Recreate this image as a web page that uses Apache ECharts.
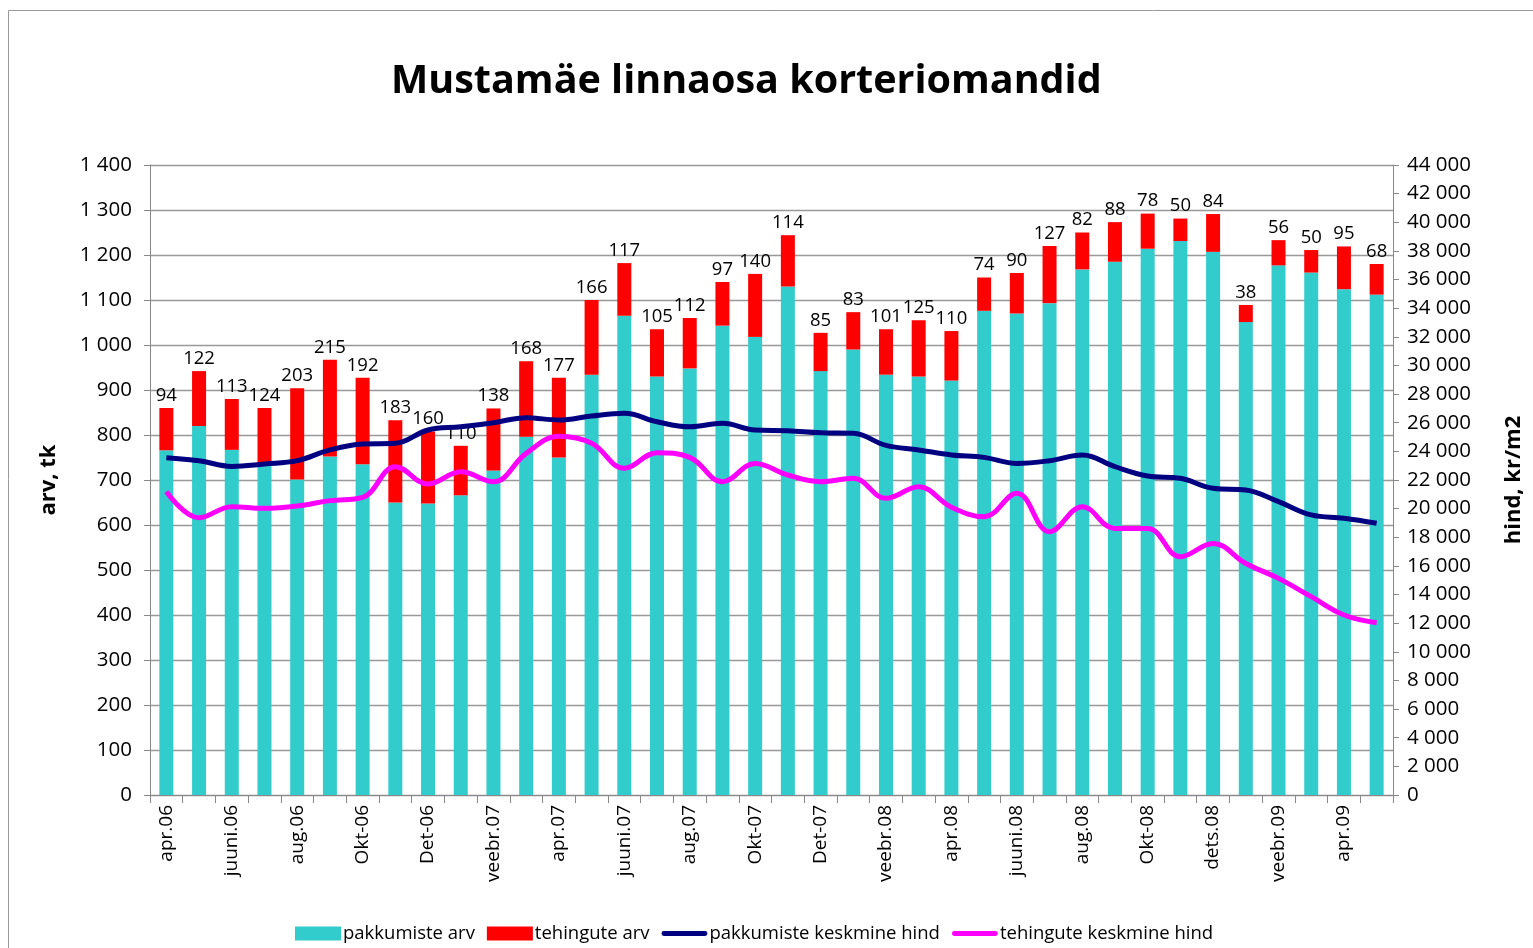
<!DOCTYPE html>
<html>
<head>
<meta charset="utf-8">
<title>Mustamäe linnaosa korteriomandid</title>
<script src="https://cdn.jsdelivr.net/npm/echarts@6/dist/echarts.min.js"></script>
<style>
  html, body { margin: 0; padding: 0; background: #fff; }
  #chart { width: 1533px; height: 948px; }
</style>
</head>
<body>
<div id="chart"></div>
<script>
// kuud apr.06 .. mai.09
var months = ['apr.06','mai.06','juuni.06','juuli.06','aug.06','sept.06','Okt-06','Nov-06','Det-06','jaan.07',
  'veebr.07','märts.07','apr.07','mai.07','juuni.07','juuli.07','aug.07','sept.07','Okt-07','Nov-07',
  'Det-07','jaan.08','veebr.08','märts.08','apr.08','mai.08','juuni.08','juuli.08','aug.08','sept.08',
  'Okt-08','Nov-08','dets.08','jaan.09','veebr.09','märts.09','apr.09','mai.09'];

var pakkumisteArv = [766,820,767,736,701,752,735,650,648,666,
  721,796,750,934,1065,930,948,1043,1018,1130,
  942,990,934,930,921,1076,1070,1093,1168,1185,
  1214,1231,1207,1051,1177,1161,1124,1112];

var tehinguteArv = [94,122,113,124,203,215,192,183,160,110,
  138,168,177,166,117,105,112,97,140,114,
  85,83,101,125,110,74,90,127,82,88,
  78,50,84,38,56,50,95,68];

var pakkumisteHind = [23560,23350,22950,23120,23350,24100,24510,24560,25490,25720,
  26000,26350,26190,26470,26660,26070,25720,25960,25490,25440,
  25300,25260,24420,24100,23750,23580,23160,23350,23750,22930,
  22280,22120,21420,21300,20490,19560,19330,18980];

var tehinguteHind = [21190,19370,20140,20020,20180,20560,20790,22930,21720,22580,
  21880,23860,25050,24560,22820,23910,23580,21880,23160,22350,
  21880,22120,20720,21530,20100,19440,21070,18390,20140,18620,
  18620,16640,17570,16170,15130,13850,12570,12030];

function spaced(v) {
  return String(v).replace(/\B(?=(\d{3})+(?!\d))/g, ' ');
}

// legendi joone ikoon: paks joon keskel, nurkades tillukesed punktid hoiavad kasti mõõtu
var lineIcon = 'path://M0,0L0.01,0L0,0.01Z M2,4.5L44,4.5A2.5,2.5,0,0,1,44,9.5L2,9.5A2.5,2.5,0,0,1,2,4.5Z M46,14L45.99,14L46,13.99Z';

var myChart = echarts.init(document.getElementById('chart'));
var font = 'Open Sans';

var option = {
  animation: false,
  backgroundColor: '#fff',
  textStyle: { fontFamily: font },
  title: {
    text: 'Mustamäe linnaosa korteriomandid',
    left: 386,
    top: 57,
    textStyle: { fontSize: 39.5, fontWeight: 'bold', color: '#000', fontFamily: font }
  },
  graphic: [{
    type: 'rect',
    shape: { x: 8.5, y: 10.5, width: 1540, height: 960 },
    style: { fill: 'none', stroke: '#999', lineWidth: 1 },
    silent: true
  }],
  legend: {
    bottom: 0,
    left: 290,
    itemGap: 12,
    itemWidth: 46,
    itemHeight: 14,
    textStyle: { fontSize: 18.5, color: '#000', fontFamily: font, padding: [0, 0, 0, -3] },
    data: [
      { name: 'pakkumiste arv', icon: 'rect' },
      { name: 'tehingute arv', icon: 'rect' },
      { name: 'pakkumiste keskmine hind', icon: lineIcon },
      { name: 'tehingute keskmine hind', icon: lineIcon }
    ]
  },
  grid: { left: 150, right: 138, top: 165, bottom: 153 },
  xAxis: {
    type: 'category',
    data: months,
    axisLine: { lineStyle: { color: '#888' } },
    axisTick: { show: true, interval: 0, length: 8, lineStyle: { color: '#888' } },
    axisLabel: { interval: 1, rotate: 90, fontSize: 19, color: '#000', margin: 10 }
  },
  yAxis: [{
    type: 'value',
    min: 0, max: 1400, interval: 100,
    name: 'arv, tk',
    nameLocation: 'middle',
    nameGap: 90,
    nameRotate: 90,
    nameTextStyle: { fontSize: 22, fontWeight: 'bold', color: '#000' },
    axisLine: { show: true, lineStyle: { color: '#888' } },
    axisTick: { show: true, length: 6, lineStyle: { color: '#888' } },
    splitLine: { lineStyle: { color: '#999', width: 1.3 } },
    axisLabel: { fontSize: 20.5, color: '#000', margin: 18, formatter: spaced }
  }, {
    type: 'value',
    min: 0, max: 44000, interval: 2000,
    name: 'hind, kr/m2',
    nameLocation: 'middle',
    nameGap: 110,
    nameRotate: 90,
    nameTextStyle: { fontSize: 22, fontWeight: 'bold', color: '#000' },
    axisLine: { show: true, lineStyle: { color: '#888' } },
    axisTick: { show: true, length: 6, lineStyle: { color: '#888' } },
    splitLine: { show: false },
    axisLabel: { fontSize: 20.5, color: '#000', margin: 14, formatter: spaced }
  }],
  series: [{
    name: 'pakkumiste arv',
    type: 'bar',
    stack: 'arv',
    barWidth: 14,
    itemStyle: { color: '#33CCCC' },
    data: pakkumisteArv
  }, {
    name: 'tehingute arv',
    type: 'bar',
    stack: 'arv',
    barWidth: 14,
    itemStyle: { color: '#FF0000' },
    label: { show: true, position: 'top', fontSize: 18.5, color: '#000', distance: 3 },
    data: tehinguteArv
  }, {
    name: 'pakkumiste keskmine hind',
    type: 'line',
    yAxisIndex: 1,
    smooth: 0.4,
    symbol: 'none',
    lineStyle: { color: '#000080', width: 5 },
    itemStyle: { color: '#000080' },
    data: pakkumisteHind
  }, {
    name: 'tehingute keskmine hind',
    type: 'line',
    yAxisIndex: 1,
    smooth: 0.4,
    symbol: 'none',
    lineStyle: { color: '#FF00FF', width: 5 },
    itemStyle: { color: '#FF00FF' },
    data: tehinguteHind
  }]
};

myChart.setOption(option);
</script>
</body>
</html>
